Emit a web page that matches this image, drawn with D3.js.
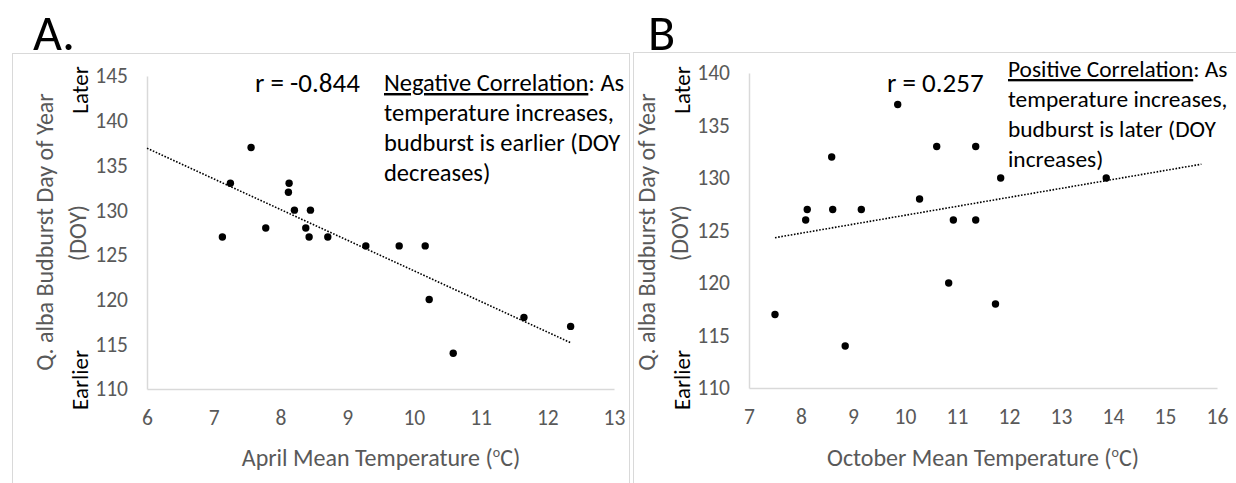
<!DOCTYPE html>
<html>
<head>
<meta charset="utf-8">
<script src="https://cdn.jsdelivr.net/npm/d3@7"></script>
<style>
  html, body { margin: 0; padding: 0; background: #fff; }
  svg { display: block; }
  text { font-family: Carlito, Calibri, Lato, "Open Sans", sans-serif; }
</style>
</head>
<body>
<svg id="chart" width="1236" height="483"></svg>
<script>
// ---- Data ----
const aprilTemp = [7.13, 7.25, 7.56, 7.78, 8.12, 8.13, 8.21, 8.38, 8.43, 8.45, 8.71, 9.28, 9.78, 10.17, 10.23, 10.59, 11.65, 12.35];
const aprilDOY  = [127, 133, 137, 128, 132, 133, 130, 128, 127, 130, 127, 126, 126, 126, 120, 114, 118, 117];

const octTemp = [7.50, 8.09, 8.12, 8.59, 8.61, 8.85, 9.16, 9.86, 10.28, 10.61, 10.84, 10.93, 11.36, 11.36, 11.74, 11.84, 13.87];
const octDOY  = [117, 126, 127, 132, 127, 114, 127, 137, 128, 133, 120, 126, 133, 126, 118, 130, 130];

const xTicksA = [6, 7, 8, 9, 10, 11, 12, 13];
const yTicksA = [110, 115, 120, 125, 130, 135, 140, 145];
const xTicksB = [7, 8, 9, 10, 11, 12, 13, 14, 15, 16];
const yTicksB = [110, 115, 120, 125, 130, 135, 140];

// trendline x-extent (Excel forecast range)
const trendXA = [6, 12.35];
const trendXB = [7.5, 15.7];

const rA = "r = -0.844";
const rB = "r = 0.257";
const noteA = ["Negative Correlation", ": As", "temperature increases,", "budburst is earlier (DOY", "decreases)"];
const noteB = ["Positive Correlation", ": As", "temperature increases,", "budburst is later (DOY", "increases)"];

// ---- Drawing ----
const svg = d3.select("#chart");
const GRAY = "#595959";
const AXIS = "#d9d9d9";

function regression(xs, ys) {
  const mx = d3.mean(xs), my = d3.mean(ys);
  let sxy = 0, sxx = 0;
  xs.forEach((x, i) => { sxy += (x - mx) * (ys[i] - my); sxx += (x - mx) * (x - mx); });
  const b = sxy / sxx;
  return x => my + b * (x - mx);
}

function panel(cfg) {
  const g = svg.append("g");
  // chart area border
  g.append("rect")
    .attr("x", cfg.border[0] + 0.5).attr("y", cfg.border[1] + 0.5)
    .attr("width", cfg.border[2]).attr("height", 600)
    .attr("fill", "none").attr("stroke", AXIS).attr("stroke-width", 1);

  // panel letter
  g.append("text").attr("x", cfg.letterX).attr("y", 50)
    .attr("font-family", "Liberation Sans, Arial, sans-serif")
    .attr("font-size", 50).attr("fill", "#000").text(cfg.letter);

  const x = d3.scaleLinear().domain(cfg.xDomain).range(cfg.xRange);
  const y = d3.scaleLinear().domain(cfg.yDomain).range(cfg.yRange);

  // axes (lines only, no ticks)
  const xAxis = g.append("g").attr("transform", `translate(0,${cfg.yRange[0]})`)
    .call(d3.axisBottom(x).tickValues(cfg.xTicks).tickSize(0).tickPadding(22).tickFormat(d3.format("d")));
  const yAxis = g.append("g").attr("transform", `translate(${cfg.xRange[0]},0)`)
    .call(d3.axisLeft(y).tickValues(cfg.yTicks).tickSize(0).tickPadding(19).tickFormat(d3.format("d")));
  [xAxis, yAxis].forEach(a => {
    a.select(".domain").attr("stroke", AXIS).attr("stroke-width", 1.5);
    a.selectAll("text").attr("fill", GRAY).attr("font-size", 21.5)
      .attr("font-family", "Carlito, Calibri, Lato, sans-serif");
  });
  xAxis.selectAll("text").attr("dy", "0.66em");

  // trend line
  const f = regression(cfg.xs, cfg.ys);
  g.append("line")
    .attr("x1", x(cfg.trendX[0])).attr("y1", y(f(cfg.trendX[0])))
    .attr("x2", x(cfg.trendX[1])).attr("y2", y(f(cfg.trendX[1])))
    .attr("stroke", "#000").attr("stroke-width", 1.6)
    .attr("stroke-dasharray", "1.6 1.6");

  // points
  g.selectAll("circle.pt").data(cfg.xs.map((v, i) => [v, cfg.ys[i]])).enter()
    .append("circle").attr("class", "pt")
    .attr("cx", d => x(d[0])).attr("cy", d => y(d[1])).attr("r", 3.7).attr("fill", "#000");

  // x axis title
  const xt = g.append("text").attr("x", cfg.xTitleX).attr("y", 466)
    .attr("text-anchor", "middle").attr("fill", GRAY).attr("font-size", 24);
  xt.append("tspan").text(cfg.xTitle + " (");
  xt.append("tspan").attr("font-size", 14).attr("dy", -9).text("o");
  xt.append("tspan").attr("dy", 9).text("C)");

  // y axis title (two lines, rotated)
  const ax0 = cfg.xRange[0];
  g.append("text").attr("transform", `translate(${ax0 - 94},232) rotate(-90)`)
    .attr("text-anchor", "middle").attr("fill", GRAY).attr("font-size", 24)
    .text("Q. alba Budburst Day of Year");
  g.append("text").attr("transform", `translate(${ax0 - 61},233) rotate(-90)`)
    .attr("text-anchor", "middle").attr("fill", GRAY).attr("font-size", 24)
    .text("(DOY)");
  g.append("text").attr("transform", `translate(${ax0 - 59},90) rotate(-90)`)
    .attr("text-anchor", "middle").attr("fill", "#000").attr("font-size", 23)
    .text("Later");
  g.append("text").attr("transform", `translate(${ax0 - 59},380) rotate(-90)`)
    .attr("text-anchor", "middle").attr("fill", "#000").attr("font-size", 23)
    .text("Earlier");

  // r value
  g.append("text").attr("x", cfg.rX).attr("y", 92).attr("fill", "#000")
    .attr("font-size", 27).text(cfg.r);

  // note
  const lh = 30;
  const t1 = g.append("text").attr("x", cfg.noteX).attr("y", cfg.noteY).attr("fill", "#000").attr("font-size", cfg.noteSize);
  t1.append("tspan").attr("text-decoration", "underline").text(cfg.note[0]);
  t1.append("tspan").text(cfg.note[1]);
  for (let i = 2; i < cfg.note.length; i++) {
    g.append("text").attr("x", cfg.noteX).attr("y", cfg.noteY + lh * (i - 1))
      .attr("fill", "#000").attr("font-size", cfg.noteSize).text(cfg.note[i]);
  }
}

panel({
  letter: "A.", letterX: 33, border: [12, 53, 617],
  xs: aprilTemp, ys: aprilDOY,
  xDomain: [6, 13], xRange: [147, 614], yDomain: [110, 145], yRange: [389, 76],
  xTicks: xTicksA, yTicks: yTicksA, trendX: trendXA,
  xTitle: "April Mean Temperature", xTitleX: 381,
  r: rA, rX: 255, note: noteA, noteX: 384, noteY: 91, noteSize: 24.5
});

panel({
  letter: "B", letterX: 648, border: [633, 52, 700],
  xs: octTemp, ys: octDOY,
  xDomain: [7, 16], xRange: [749, 1217], yDomain: [110, 140], yRange: [388, 73],
  xTicks: xTicksB, yTicks: yTicksB, trendX: trendXB,
  xTitle: "October Mean Temperature", xTitleX: 983,
  r: rB, rX: 887, note: noteB, noteX: 1008, noteY: 77, noteSize: 23.4
});
</script>
</body>
</html>
